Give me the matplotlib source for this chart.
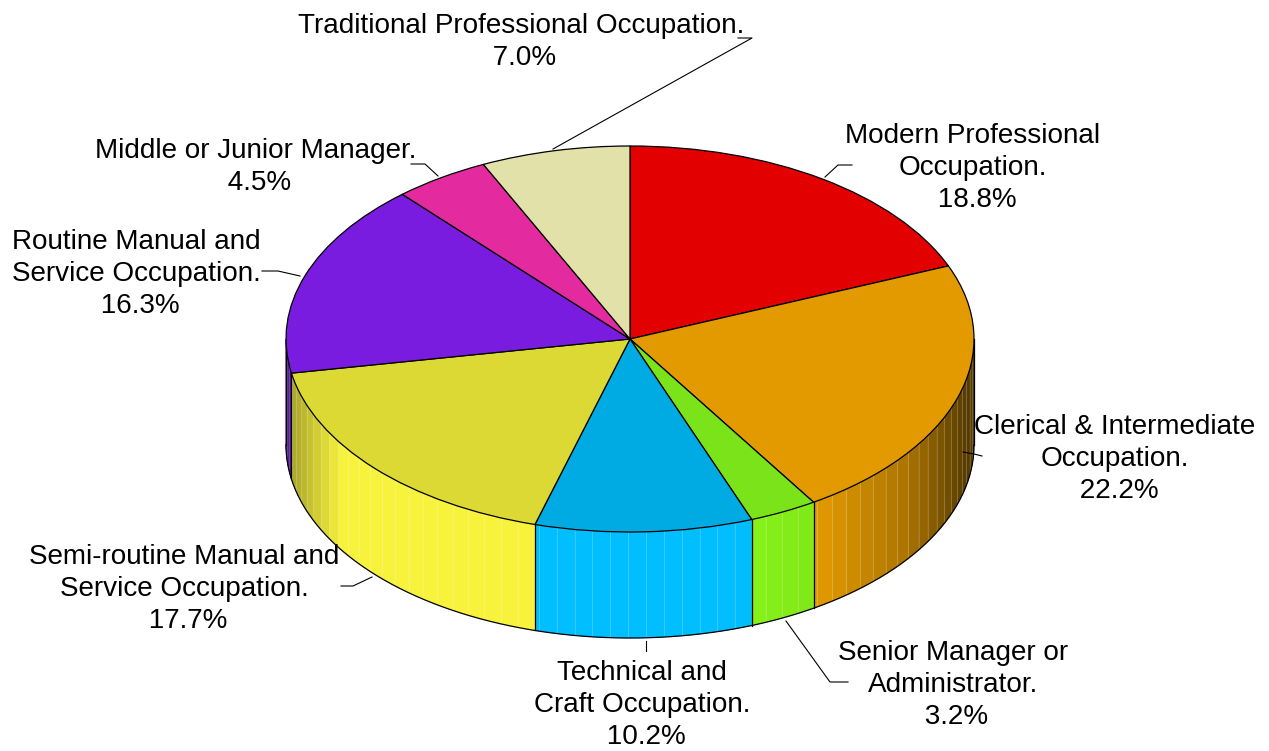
import numpy as np
import matplotlib
matplotlib.use('Agg')
import matplotlib.pyplot as plt

plt.rcParams['font.family'] = ['Liberation Sans', 'DejaVu Sans']

# DATA
categories = ['Modern Professional\nOccupation.',
              'Clerical & Intermediate\nOccupation.',
              'Senior Manager or\nAdministrator.',
              'Technical and\nCraft Occupation.',
              'Semi-routine Manual and\nService Occupation.',
              'Routine Manual and\nService Occupation.',
              'Middle or Junior Manager.',
              'Traditional Professional Occupation.']
values = [18.8, 22.2, 3.2, 10.2, 17.7, 16.3, 4.5, 7.0]
top_colors = ['#e30000', '#e39a00', '#7ae31a', '#00abe3', '#dcd935', '#7a1ce0', '#e32a9f', '#e3e1aa']
side_colors = ['#ff0000', '#f0a300', '#87f519', '#00beff', '#f7f23c', '#7a1ce0', '#ff2fb0', '#fffcbe']

# label centre (px), leader line (px)
label_pos = [(973, 168), (1115, 459), (953, 685), (642, 705), (184, 589), (136, 274), (256, 167), (521, 42)]
leaders = [[(825, 177), (838, 165), (852, 165)],
           [(963, 452), (974, 454), (982, 456)],
           [(786, 621), (830, 682), (848, 682)],
           [(646, 641), (646, 651)],
           [(372, 577), (353, 586), (341, 586)],
           [(300, 276), (278, 271), (262, 271)],
           [(438, 176), (425, 164), (411, 164)],
           [(553, 149), (752, 38), (738, 38)]]

# pie geometry in pixels
W, H = 1269, 751
cx, cy, rx, ry, depth = 630, 339, 344, 193, 106
d = depth / ry


def shade(s):
    # light falls off towards the two ends of the rim
    return np.interp(s, [-1, -0.84, 0.3, 0.55, 0.8, 1], [0.65, 1.0, 1.0, 0.94, 0.72, 0.32])


fig = plt.figure(figsize=(W / 100, H / 100), dpi=100)
ax = fig.add_axes([0, 0, 1, 1])

# top of the pie
ax.pie(values, startangle=90, counterclock=False, colors=top_colors, radius=1,
       wedgeprops={'edgecolor': 'black', 'linewidth': 0.9})
ax.set_aspect('auto')
ax.set_xlim(-cx / rx, (W - cx) / rx)
ax.set_ylim((cy - H) / ry, cy / ry)
ax.axis('off')

# side wall
edges = np.cumsum([0] + values) / sum(values) * 360
for i, col in enumerate(side_colors):
    a0, a1 = max(edges[i], 90), min(edges[i + 1], 270)
    if a1 <= a0:
        continue
    rgb = np.array(matplotlib.colors.to_rgb(col))
    starts = np.arange(a0, a1, 3.0)
    for st in starts:
        en = min(st + 3.0, a1)
        t = np.radians(np.linspace(st, en, 5))
        xs, ys = np.sin(t), np.cos(t)
        c = rgb * shade(np.sin(np.radians((st + en) / 2)))
        ax.fill(np.r_[xs, xs[::-1]], np.r_[ys, ys[::-1] - d], color=c, lw=0.4, zorder=0.5)
        if st > a0:
            ax.plot([xs[0], xs[0]], [ys[0], ys[0] - d], color='white', alpha=0.18, lw=0.8, zorder=0.6)

# rim outline
t = np.radians(np.linspace(90, 270, 200))
ax.plot(np.sin(t), np.cos(t) - d, color='black', lw=0.9, zorder=0.8)
for a in list(edges[(edges > 90) & (edges < 270)]) + [90, 270]:
    r = np.radians(a)
    ax.plot([np.sin(r)] * 2, [np.cos(r), np.cos(r) - d], color='black', lw=0.9, zorder=0.8)

# labels and leaders in pixel space
lab = fig.add_axes([0, 0, 1, 1])
lab.set_xlim(0, W)
lab.set_ylim(H, 0)
lab.axis('off')
for name, val, pos, line in zip(categories, values, label_pos, leaders):
    lab.plot(*zip(*line), color='black', lw=0.8)
    # leading space: the percent line sits a little right of centre in the original
    lab.text(pos[0], pos[1], f'{name}\n {val:.1f}%', ha='center', va='center',
             fontsize=20.1, linespacing=1.3, color='black')

fig.savefig('out.png', dpi=100)
